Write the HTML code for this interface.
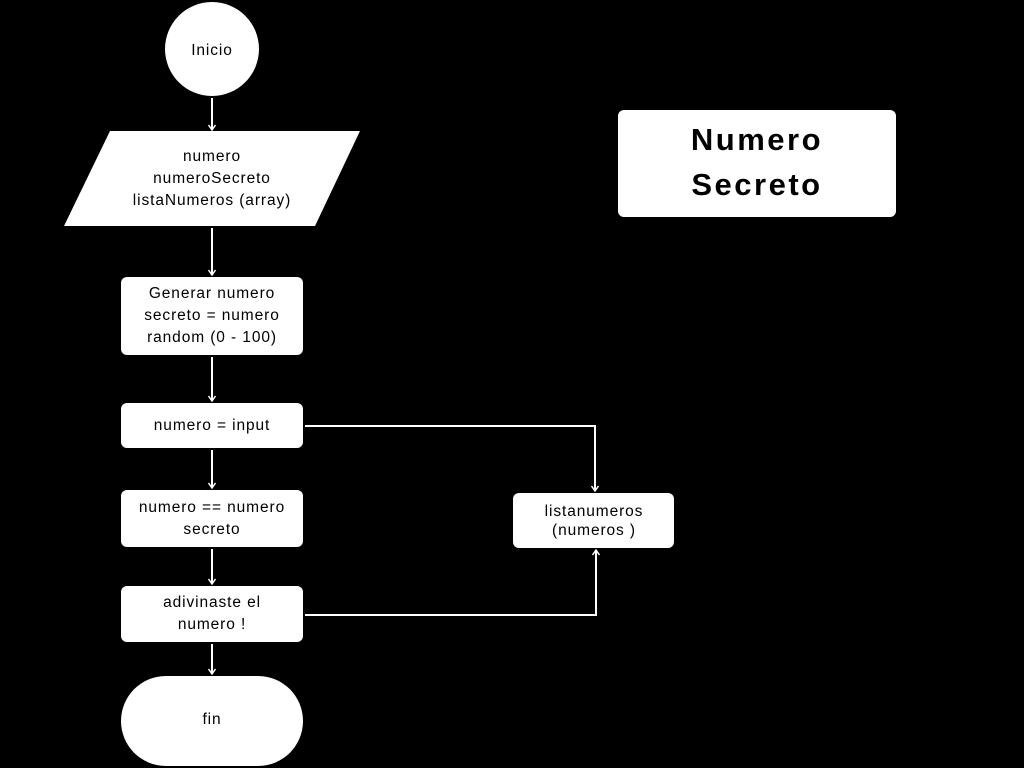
<!DOCTYPE html>
<html><head><meta charset="utf-8"><style>
html,body{margin:0;padding:0;background:#000;width:1024px;height:768px;overflow:hidden}
text{font-family:"Liberation Sans",sans-serif;font-size:15.5px;fill:#000;letter-spacing:0.9px}
</style></head><body>
<svg width="1024" height="768" viewBox="0 0 1024 768" xmlns="http://www.w3.org/2000/svg">
<defs><marker id="a" markerUnits="userSpaceOnUse" markerWidth="10" markerHeight="10" refX="6" refY="5" orient="auto"><path d="M1,1.5 L6,5 L1,8.5" fill="none" stroke="#fff" stroke-width="1.5"/></marker></defs>
<g fill="#fff">
<circle cx="212" cy="49" r="47"/>
<polygon points="110,131 360,131 315,226 64,226"/>
<rect x="121" y="277" width="182" height="78" rx="6"/>
<rect x="121" y="403" width="182" height="45" rx="6"/>
<rect x="121" y="490" width="182" height="57" rx="6"/>
<rect x="121" y="586" width="182" height="56" rx="6"/>
<rect x="121" y="676" width="182" height="90" rx="45"/>
<rect x="513" y="493" width="161" height="55" rx="6"/>
<rect x="618" y="110" width="278" height="107" rx="6"/>
</g>
<g stroke="#fff" stroke-width="2" fill="none" marker-end="url(#a)">
<line x1="212" y1="98" x2="212" y2="130"/>
<line x1="212" y1="228" x2="212" y2="275"/>
<line x1="212" y1="357" x2="212" y2="401"/>
<line x1="212" y1="450" x2="212" y2="488"/>
<line x1="212" y1="549" x2="212" y2="584"/>
<line x1="212" y1="644" x2="212" y2="674"/>
<polyline points="305,426 595,426 595,491"/>
<polyline points="305,615 596,615 596,550"/>
</g>
<g text-anchor="middle">
<text x="212" y="55">Inicio</text>
<text x="212" y="161">numero</text>
<text x="212" y="183">numeroSecreto</text>
<text x="212" y="205">listaNumeros (array)</text>
<text x="212" y="298">Generar numero</text>
<text x="212" y="320">secreto = numero</text>
<text x="212" y="342">random (0 - 100)</text>
<text x="212" y="430">numero = input</text>
<text x="212" y="512">numero == numero</text>
<text x="212" y="534">secreto</text>
<text x="212" y="607">adivinaste el</text>
<text x="212" y="629">numero !</text>
<text x="212" y="724">fin</text>
<text x="594" y="516">listanumeros</text>
<text x="594" y="535">(numeros )</text>
<text x="757" y="150" style="font-size:31px;font-weight:bold;letter-spacing:2.5px">Numero</text>
<text x="757" y="195" style="font-size:31px;font-weight:bold;letter-spacing:2.5px">Secreto</text>
</g>
</svg>
</body></html>
